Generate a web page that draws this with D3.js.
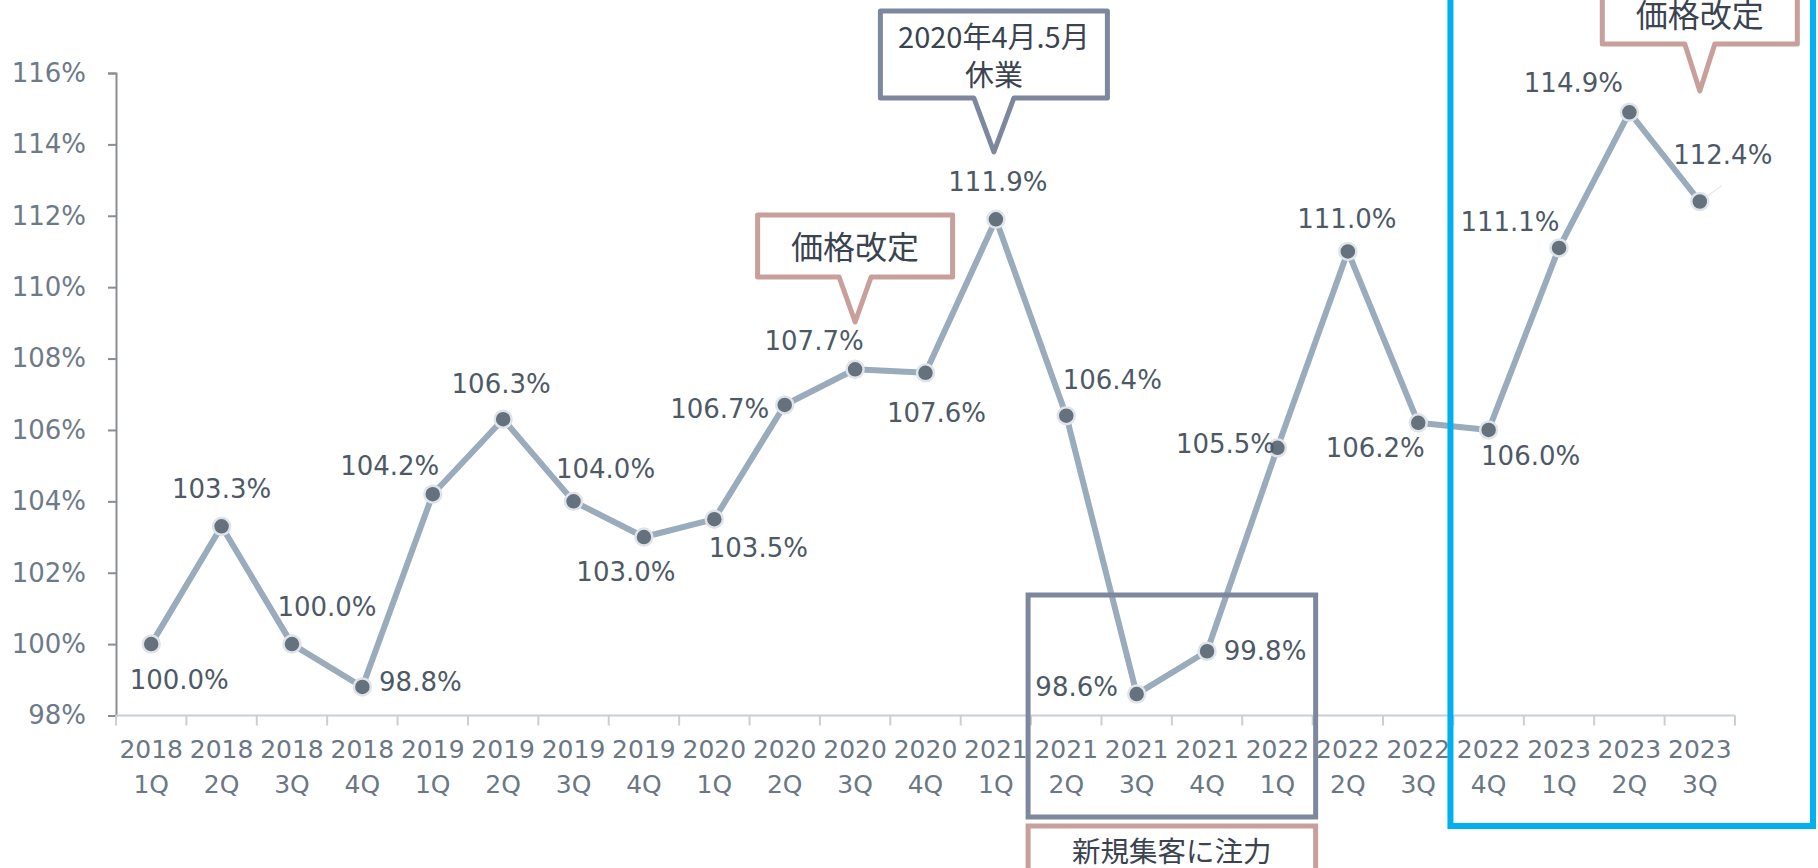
<!DOCTYPE html>
<html>
<head>
<meta charset="utf-8">
<script src="https://cdn.jsdelivr.net/npm/d3@7"></script>
<style>
    body { margin: 0; background: #fff; }
    svg { display: block; }
</style>
</head>
<body>
<svg id="chart"></svg>
<script>
// ===================================================================
// DATA
// ===================================================================
const years = ["2018", "2018", "2018", "2018", "2019", "2019", "2019", "2019",
    "2020", "2020", "2020", "2020", "2021", "2021", "2021", "2021",
    "2022", "2022", "2022", "2022", "2023", "2023", "2023"];
const quarters = ["1Q", "2Q", "3Q", "4Q", "1Q", "2Q", "3Q", "4Q",
    "1Q", "2Q", "3Q", "4Q", "1Q", "2Q", "3Q", "4Q",
    "1Q", "2Q", "3Q", "4Q", "1Q", "2Q", "3Q"];
const values = [100.0, 103.3, 100.0, 98.8, 104.2, 106.3, 104.0, 103.0,
    103.5, 106.7, 107.7, 107.6, 111.9, 106.4, 98.6, 99.8,
    105.5, 111.0, 106.2, 106.0, 111.1, 114.9, 112.4];
const yTicks = [98, 100, 102, 104, 106, 108, 110, 112, 114, 116];

// label placement around each point (px)
const labelDx = [28, 0, 35, 58, -43, -2, 32, -18, 44, -65, -41, 11, 2, 46, -60, 58, -52, -1, -43, 42, -49, -56, 23];
const labelDy = [36, -37, -37, -5, -28, -35, -32, 35, 29, 4, -28, 40, -37, -36, -7, 0, -4, -32, 25, 26, -26, -29, -47];

const categories = years.map((y, i) => `${y} ${quarters[i]}`);

// ===================================================================
// SETUP
// ===================================================================
const width = 1818;
const height = 868;
const svg = d3.select('#chart')
    .attr('width', width)
    .attr('height', height);

const x = d3.scaleBand()
    .domain(categories)
    .range([116, 1735]);

const y = d3.scaleLinear()
    .domain([98, 116])
    .range([715.5, 73]);

const cx = c => x(c) + x.bandwidth() / 2;

const textFont = '"DejaVu Sans", Verdana, sans-serif';
const jpFont = '"Noto Sans CJK JP", "Noto Sans", sans-serif';

// ===================================================================
// AXES
// ===================================================================
const yAxis = svg.append('g')
    .attr('transform', `translate(${x.range()[0]},0)`)
    .call(d3.axisLeft(y)
        .tickValues(yTicks)
        .tickFormat(d => `${d}%`)
        .tickSize(8)
        .tickPadding(22));

yAxis.select('.domain').attr('stroke', '#8a8d91').attr('stroke-width', 2);
yAxis.selectAll('.tick line').attr('stroke', '#8a8d91').attr('stroke-width', 2);
yAxis.selectAll('.tick text')
    .style('font-family', textFont)
    .style('font-size', '26px')
    .attr('fill', '#6e7a87');

// x axis: line + ticks at band edges
const xAxis = svg.append('g')
    .attr('transform', `translate(0,${y.range()[0]})`);

xAxis.append('line')
    .attr('x1', x.range()[0])
    .attr('x2', x.range()[1])
    .attr('stroke', '#c8cfd7')
    .attr('stroke-width', 2);

const edges = categories.map(c => x(c)).concat([x.range()[1]]);
xAxis.selectAll('.edge')
    .data(edges)
    .join('line')
    .attr('class', 'edge')
    .attr('x1', d => d)
    .attr('x2', d => d)
    .attr('y1', 0)
    .attr('y2', 10)
    .attr('stroke', '#c8cfd7')
    .attr('stroke-width', 2);

const xLabels = xAxis.selectAll('.xlabel')
    .data(categories)
    .join('text')
    .attr('class', 'xlabel')
    .attr('text-anchor', 'middle')
    .style('font-family', textFont)
    .style('font-size', '25px')
    .attr('fill', '#6b7784');

xLabels.append('tspan')
    .attr('x', d => cx(d))
    .attr('y', 42)
    .text((d, i) => years[i]);

xLabels.append('tspan')
    .attr('x', d => cx(d))
    .attr('y', 77)
    .text((d, i) => quarters[i]);

// ===================================================================
// LINE + POINTS
// ===================================================================
const line = d3.line()
    .x((d, i) => cx(categories[i]))
    .y(d => y(d));

svg.append('path')
    .datum(values)
    .attr('d', line)
    .attr('fill', 'none')
    .attr('stroke', '#9aabbc')
    .attr('stroke-width', 6)
    .attr('stroke-linejoin', 'round');

// small leader line on last point
const last = values.length - 1;
svg.append('line')
    .attr('x1', cx(categories[last]))
    .attr('y1', y(values[last]))
    .attr('x2', cx(categories[last]) + 22)
    .attr('y2', y(values[last]) - 16)
    .attr('stroke', '#e6eaee')
    .attr('stroke-width', 1.5);

svg.selectAll('.pt')
    .data(values)
    .join('circle')
    .attr('class', 'pt')
    .attr('cx', (d, i) => cx(categories[i]))
    .attr('cy', d => y(d))
    .attr('r', 8.5)
    .attr('fill', '#66717e')
    .attr('stroke', '#dfe4ea')
    .attr('stroke-width', 2.5);

svg.selectAll('.dlabel')
    .data(values)
    .join('text')
    .attr('class', 'dlabel')
    .attr('x', (d, i) => cx(categories[i]) + labelDx[i])
    .attr('y', (d, i) => y(d) + labelDy[i])
    .attr('text-anchor', 'middle')
    .attr('dominant-baseline', 'central')
    .style('font-family', textFont)
    .style('font-size', '26px')
    .attr('fill', '#4e5966')
    .text(d => `${d.toFixed(1)}%`);

// ===================================================================
// ANNOTATIONS
// ===================================================================
function callout(apexX, apexY, boxW, top, bottom, baseW, color, lines, lineYs, fontSize) {
    const left = apexX - boxW / 2;
    const right = apexX + boxW / 2;
    const path = d3.path();
    path.moveTo(left, top);
    path.lineTo(right, top);
    path.lineTo(right, bottom);
    path.lineTo(apexX + baseW / 2, bottom);
    path.lineTo(apexX, apexY);
    path.lineTo(apexX - baseW / 2, bottom);
    path.lineTo(left, bottom);
    path.closePath();

    svg.append('path')
        .attr('d', path.toString())
        .attr('fill', '#fff')
        .attr('stroke', color)
        .attr('stroke-width', 5)
        .attr('stroke-linejoin', 'round');

    lines.forEach((t, i) => {
        svg.append('text')
            .attr('x', apexX)
            .attr('y', lineYs[i])
            .attr('text-anchor', 'middle')
            .attr('dominant-baseline', 'central')
            .style('font-family', jpFont)
            .style('font-size', `${fontSize}px`)
            .attr('fill', '#3a434f')
            .text(t);
    });
}

const slate = '#7d889f';
const pink = '#c89f9a';

// 休業 callout above 2021 1Q
callout(cx(categories[12]) - 2, 152, 227, 11, 98, 40, slate,
    ['2020年4月.5月', '休業'], [35, 73], 29);

// 価格改定 above 2020 3Q
callout(cx(categories[10]), 322, 195, 215, 277, 32, pink,
    ['価格改定'], [245], 32);

// 価格改定 above 2023 3Q
callout(cx(categories[22]), 91, 195, -18, 44, 30, pink,
    ['価格改定'], [13], 32);

// focus box 2021 2Q - 2022 1Q
const boxL = x(categories[13]) - 3;
const boxR = x(categories[17]) + 3;
svg.append('rect')
    .attr('x', boxL)
    .attr('y', 595)
    .attr('width', boxR - boxL)
    .attr('height', 222)
    .attr('fill', 'none')
    .attr('stroke', slate)
    .attr('stroke-width', 5);

svg.append('rect')
    .attr('x', boxL)
    .attr('y', 826)
    .attr('width', boxR - boxL)
    .attr('height', 60)
    .attr('fill', '#fff')
    .attr('stroke', pink)
    .attr('stroke-width', 5);

svg.append('text')
    .attr('x', (boxL + boxR) / 2)
    .attr('y', 849)
    .attr('text-anchor', 'middle')
    .attr('dominant-baseline', 'central')
    .style('font-family', jpFont)
    .style('font-size', '28.5px')
    .attr('fill', '#3a434f')
    .text('新規集客に注力');

// blue frame around latest quarters
const blueL = x(categories[19]) - 3;
svg.append('rect')
    .attr('x', blueL)
    .attr('y', -20)
    .attr('width', 1813 - blueL)
    .attr('height', 846)
    .attr('fill', 'none')
    .attr('stroke', '#00b0f0')
    .attr('stroke-width', 6);
</script>
</body>
</html>
